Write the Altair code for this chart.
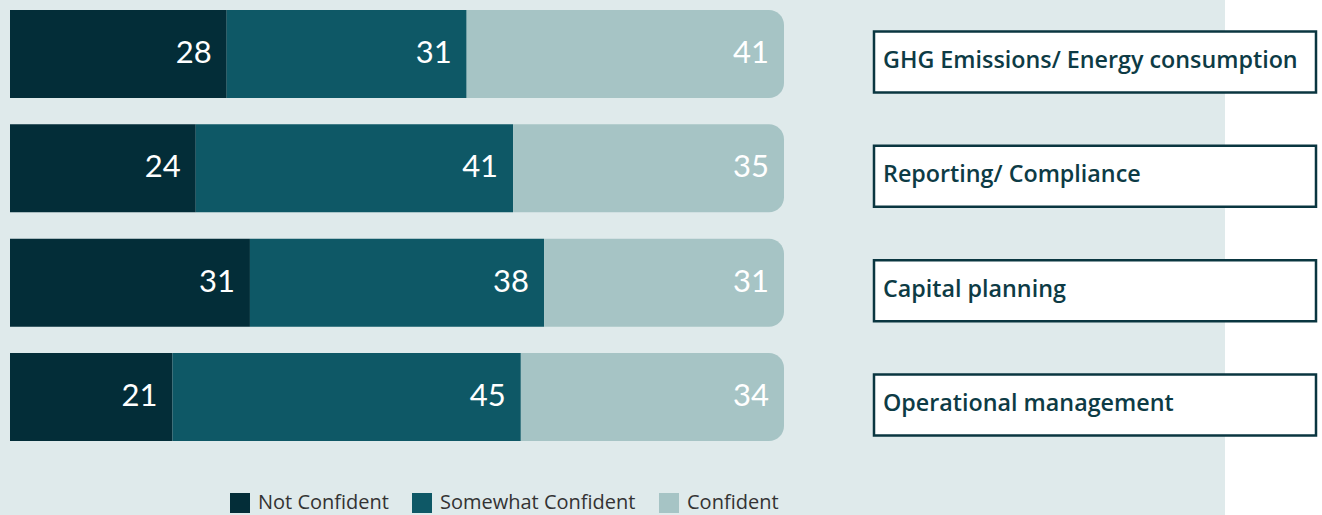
import altair as alt
import pandas as pd

categories = ["GHG Emissions/ Energy consumption", "Reporting/ Compliance",
              "Capital planning", "Operational management"]
segments = ["Not Confident", "Somewhat Confident", "Confident"]
not_confident = [28, 24, 31, 21]
somewhat_confident = [31, 41, 38, 45]
confident = [41, 35, 31, 34]
colors = ["#032d38", "#0e5866", "#a6c4c5"]

rows = []
for i, c in enumerate(categories):
    for j, (s, vals) in enumerate(zip(segments, [not_confident, somewhat_confident, confident])):
        rows.append({"category": c, "segment": s, "value": vals[i], "order": j})
df = pd.DataFrame(rows)
cat_df = pd.DataFrame({"category": categories})

yenc = alt.Y("category:N", sort=categories, axis=None,
             scale=alt.Scale(domain=categories, range=[10, 441], paddingInner=0.23, paddingOuter=0))
xscale = alt.Scale(domain=[0, 100], range=[10, 784], nice=False, zero=False)

bg = alt.Chart(cat_df).mark_rect(color="#dfeaeb").encode(
    x=alt.value(0), x2=alt.value(1225), y=alt.value(0), y2=alt.value(515))

base = alt.Chart(df).transform_stack(
    stack="value", groupby=["category"], as_=["x0", "x1"],
    sort=[alt.SortField("order", order="ascending")])

color = alt.Color("segment:N", sort=segments,
                  scale=alt.Scale(domain=segments, range=colors),
                  legend=alt.Legend(title=None, orient="none", legendX=230, legendY=493,
                                    direction="horizontal", symbolType="square",
                                    symbolSize=400, symbolStrokeWidth=0, symbolOpacity=1,
                                    labelFont="Open Sans", labelFontSize=20, labelColor="#333333",
                                    labelLimit=300, labelOffset=8, columnPadding=23))

bars = base.transform_filter(alt.datum.segment != "Confident").mark_bar().encode(
    x=alt.X("x0:Q", scale=xscale, axis=None), x2="x1:Q", y=yenc, color=color)

bars_end = base.transform_filter(alt.datum.segment == "Confident").mark_bar(
    cornerRadiusTopRight=15, cornerRadiusBottomRight=15).encode(
    x=alt.X("x0:Q", scale=xscale, axis=None), x2="x1:Q", y=yenc, color=color)

labels = base.mark_text(align="right", baseline="middle", dx=-15, fontSize=31,
                        font="Lato", fontWeight=400, color="white").encode(
    x=alt.X("x1:Q", scale=xscale, axis=None), y=yenc, text="value:Q")

boxes = alt.Chart(cat_df).mark_bar(height=61, yOffset=8, fill="white",
                                   stroke="#0a3640", strokeWidth=2.5).encode(
    x=alt.value(874), x2=alt.value(1316), y=yenc)

box_text = alt.Chart(cat_df).mark_text(align="left", baseline="middle", dy=7,
                                        fontSize=23.3, fontWeight=600, font="Open Sans",
                                        color="#0d3b45").encode(
    x=alt.value(883), y=yenc, text="category:N")

chart = alt.layer(bg, bars, bars_end, labels, boxes, box_text).properties(
    width=1322, height=515, padding=0, background="white",
    autosize=alt.AutoSizeParams(type="none")
).configure_view(stroke=None)

chart.save("out.html", embed_options={"renderer": "svg", "actions": False})
